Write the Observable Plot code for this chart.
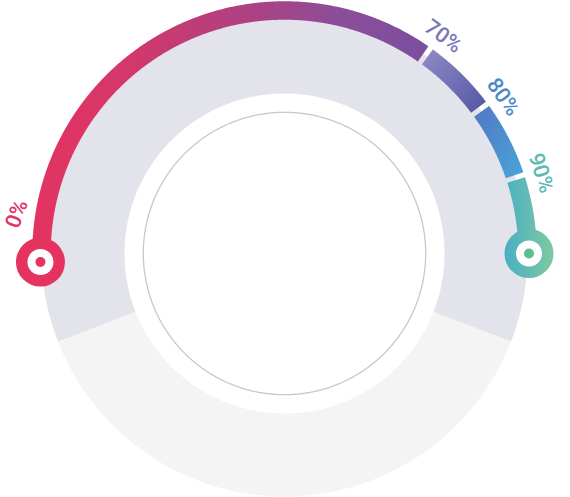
<!DOCTYPE html>
<html><head><meta charset="utf-8">
<script src="https://cdn.jsdelivr.net/npm/d3@7"></script>
<script src="https://cdn.jsdelivr.net/npm/@observablehq/plot@0.6"></script>
<style>html,body{margin:0;padding:0;background:#fff}#chart svg{display:block;overflow:visible}</style>
</head><body><div id="chart"></div>
<script>
// ---- data ----
const breaks = [0, 70, 80, 90, 100];          // segment boundaries (%)
const labelValues = [0, 70, 80, 90];
const labelTexts = ["0%", "70%", "80%", "90%"];
const labelColors = ["#e3335f", "#7a78b8", "#4d89ca", "#5bbab2"];
const startValue = 0;
const endValue = 100;

// ---- geometry helpers ----
const SPAN = 182;                        // degrees covered by 0..100
const ang = v => 182 - v / 100 * SPAN;   // degrees, counter-clockwise from +x
const rad = d => d * Math.PI / 180;
function arc(r, a0, a1, step = 0.25) {
  const n = Math.max(2, Math.ceil(Math.abs(a1 - a0) / step));
  return d3.range(n + 1).map(i => {
    const a = rad(a0 + (a1 - a0) * i / n);
    return {x: r * Math.cos(a), y: r * Math.sin(a)};
  });
}
const pt = (r, a) => ({x: r * Math.cos(rad(a)), y: r * Math.sin(rad(a))});

const trackR = 201.5, trackW = 83;
const darkTrack = arc(trackR, -21.3, 201.3);
const lightTrack = arc(trackR, 201.3, 338.7);
const innerCircle = arc(141.2, 0, 360, 0.5);

const gap = 0.6;
const segs = d3.range(breaks.length - 1).map(i => ({
  i,
  pts: arc(243, ang(breaks[i]) - (i > 0 ? gap : 0), ang(breaks[i + 1]) + (i < breaks.length - 2 ? gap : 0))
}));

const markers = [
  {...pt(244.2, ang(startValue)), fill: "#e5335f", dot: "#e5335f"},
  {...pt(244.5, ang(endValue)), fill: "url(#gEnd)", dot: "#5cbf90"}
];

const labels = labelValues.map((v, i) => {
  const a = v === startValue ? ang(v) - 10.4 : ang(v) - 0.8;
  const r = v === startValue ? 270.5 : 269;
  return {...pt(r, a), text: labelTexts[i], color: labelColors[i],
          rot: v === startValue ? -70 : 90 - a};
});

const segLine = (s) => Plot.line(s.pts, {x: "x", y: "y", stroke: `url(#g${s.i})`, strokeWidth: 18.5, strokeLinecap: "butt", curve: "linear"});

const chart = Plot.plot({
  width: 570, height: 497, margin: 0,
  x: {domain: [-284, 286], axis: null},
  y: {domain: [-244, 253], axis: null},
  style: {background: "#fff"},
  marks: [
    Plot.line(lightTrack, {x: "x", y: "y", stroke: "#f4f4f5", strokeWidth: trackW, strokeLinecap: "butt"}),
    Plot.line(darkTrack, {x: "x", y: "y", stroke: "#e3e3eb", strokeWidth: trackW, strokeLinecap: "butt"}),
    Plot.line(innerCircle, {x: "x", y: "y", stroke: "#c8c8c8", strokeWidth: 1.3}),
    ...segs.map(segLine),
    Plot.dot(markers, {x: "x", y: "y", r: 24.5, fill: "fill", stroke: null}),
    Plot.dot(markers, {x: "x", y: "y", r: 13, fill: "#fff"}),
    Plot.dot(markers, {x: "x", y: "y", r: 5, fill: "dot"}),
    Plot.text(labels, {x: "x", y: "y", text: "text", fill: "color", rotate: "rot",
      fontSize: 21.5, fontWeight: 500, fontFamily: "Roboto, 'Open Sans', sans-serif", textAnchor: "middle", lineAnchor: "middle"})
  ]
});

// gradient defs
const X = v => chart.scale("x").apply(v);
const ns = "http://www.w3.org/2000/svg";
const defs = document.createElementNS(ns, "defs");
function grad(id, attrs, stops) {
  const g = document.createElementNS(ns, "linearGradient");
  g.setAttribute("id", id);
  for (const [k, v] of Object.entries(attrs)) g.setAttribute(k, v);
  for (const [o, c] of stops) {
    const s = document.createElementNS(ns, "stop");
    s.setAttribute("offset", o); s.setAttribute("stop-color", c);
    g.appendChild(s);
  }
  defs.appendChild(g);
}
grad("g0", {gradientUnits: "userSpaceOnUse", x1: X(-268), x2: X(146), y1: 0, y2: 0},
  [[0, "#e5335f"], [0.25, "#d6376a"], [0.54, "#b04080"], [0.78, "#8c4d98"], [1, "#7a4f9f"]]);
grad("g1", {x1: 0, y1: 0, x2: 1, y2: 1}, [[0, "#8b85c3"], [1, "#5a5ba7"]]);
grad("g2", {x1: 0, y1: 0, x2: 1, y2: 1}, [[0, "#517cc6"], [1, "#4a9fd6"]]);
grad("g3", {gradientUnits: "userSpaceOnUse", x1: X(220), x2: X(269), y1: 0, y2: 0},
  [[0, "#4aaec6"], [1, "#7ec9a0"]]);
grad("gEnd", {gradientUnits: "userSpaceOnUse", x1: X(220), x2: X(269), y1: 0, y2: 0},
  [[0, "#4aaec6"], [1, "#7ec9a0"]]);
chart.insertBefore(defs, chart.firstChild);

document.getElementById("chart").appendChild(chart);
</script>
</body></html>
